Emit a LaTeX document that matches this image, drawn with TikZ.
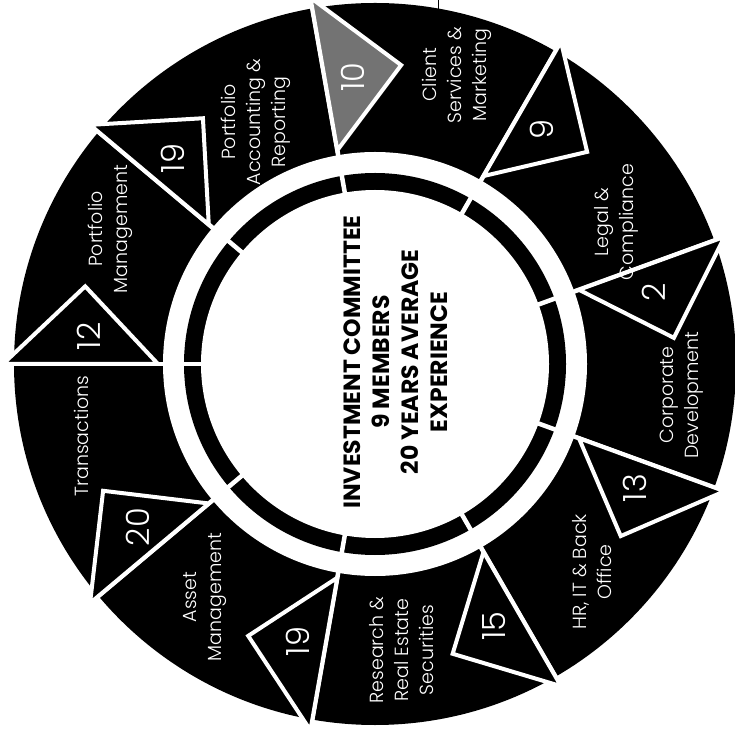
\documentclass[tikz,border=0pt]{standalone}
\usepackage{fontspec}
\setmainfont{Poppins}
\newfontfamily\lightfont{Poppins Light}
\tikzset{
  seglabel/.style={text=white, align=center, rotate=90, inner sep=0pt,
    font=\lightfont\fontsize{19}{25}\selectfont},
  tnum/.style={text=white, rotate=90, inner sep=0pt, font=\lightfont\fontsize{32}{36}\selectfont},
  tri/.style={draw=white, line width=4pt, line join=miter},
  sepline/.style={draw=white, line width=4.5pt},
  centertext/.style={text=black, align=center, rotate=90, inner sep=0pt,
    font=\bfseries\fontsize{23.5}{29}\selectfont}
}
\begin{document}
\begin{tikzpicture}[x=1pt,y=1pt]
\useasboundingbox (0,0) rectangle (735,728);
\clip (0,0) rectangle (735,728);
\fill[white] (0,0) rectangle (735,728);
\begin{scope}[shift={(375,364)}]
  % outer band and inner ring
  \fill[black] (0,0) circle (361);
  \fill[white] (0,0) circle (212);
  \fill[black] (0,0) circle (191);
  \fill[white] (0,0) circle (174);
  % gaps of the inner ring and segment borders
  \foreach \a in {20,60,...,340} {
    \draw[sepline] (\a:168) -- (\a:197);
    \draw[sepline] (\a:205) -- (\a:372);
  }
  % triangles: (border angle / number / fill)
  \foreach \a/\n/\f [count=\i] in {100/10/black!55, 60/9/black, 20/2/black, -20/13/black,
      -60/15/black, -100/19/black, -140/20/black, 180/12/black, 140/19/black} {
    \filldraw[tri, fill=\f] (\a:217) -- (\a:372) -- (\a-15:300) -- cycle;
    \node[tnum] (num\i) at (\a-5.5:288) {\n};
  }
\end{scope}
% segment labels
\node[seglabel] (lclient) at (457,653) {Client\\Services \&\\Marketing};
\node[seglabel] (llegal) at (616,506) {Legal \&\\Compliance};
\node[seglabel] (lcorp) at (682,333) {Corporate\\Development};
\node[seglabel] (lhr) at (592,156) {HR, IT \& Back\\Office};
\node[seglabel] (lres) at (402,78) {Research \&\\Real Estate\\Securities};
\node[seglabel] (lasset) at (205,131) {Asset\\Management};
\node[seglabel] (ltrans) at (81,292) {Transactions};
\node[seglabel] (lpm) at (110,499) {Portfolio\\Management};
\node[seglabel] (lpa) at (256,606) {Portfolio\\Accounting \&\\Reporting};
% centre text
\node[centertext] (center) at (396,366)
  {INVESTMENT COMMITTEE\\9 MEMBERS\\20 YEARS AVERAGE\\EXPERIENCE};
% scan mark at the top
\draw[black, line width=1pt] (438,728) -- (438,700);
\end{tikzpicture}
\end{document}
